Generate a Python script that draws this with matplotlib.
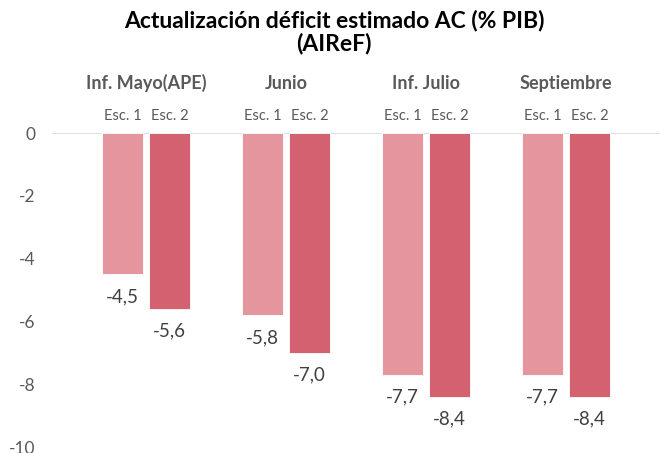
import numpy as np
import matplotlib.pyplot as plt

plt.rcParams['font.family'] = ['Lato', 'DejaVu Sans']

# Data
groups = ['Inf. Mayo(APE)', 'Junio', 'Inf. Julio', 'Septiembre']
esc1 = [-4.5, -5.8, -7.7, -7.7]
esc2 = [-5.6, -7.0, -8.4, -8.4]
sub_labels = ['Esc. 1', 'Esc. 2']
yticks = [0, -2, -4, -6, -8, -10]

c1 = '#E4959E'
c2 = '#D46170'
gray = '#595959'

fig = plt.figure(figsize=(6.68, 4.53), dpi=100)
ax = fig.add_axes([0.078, 0.0132, 0.91, 0.693])

x = np.arange(len(groups))
w = 0.293
off = 0.168
ax.bar(x - off, esc1, width=w, color=c1, edgecolor='white', linewidth=0.6)
ax.bar(x + off, esc2, width=w, color=c2, edgecolor='white', linewidth=0.6)

ax.set_xlim(-0.67, 3.67)
ax.set_ylim(-10, 0)
ax.axhline(0, color='#D9D9D9', linewidth=1.2, zorder=0)

for s in ax.spines.values():
    s.set_visible(False)
ax.set_xticks([])
ax.set_yticks(yticks)
ax.set_yticklabels([str(t) for t in yticks], fontsize=12.5, color=gray)
ax.tick_params(axis='y', length=0, pad=12)

# value labels below bars
for xi, v in zip(x - off, esc1):
    ax.annotate(f'{v:.1f}'.replace('.', ','), (xi, v), xytext=(0, -16),
                textcoords='offset points', ha='center', va='center',
                fontsize=13.5, color='#404040')
for xi, v in zip(x + off, esc2):
    ax.annotate(f'{v:.1f}'.replace('.', ','), (xi, v), xytext=(0, -16),
                textcoords='offset points', ha='center', va='center',
                fontsize=13.5, color='#404040')

# group and sub labels above the plot
for xi, g in zip(x, groups):
    ax.annotate(g, (xi, 0), xytext=(0, 36), textcoords='offset points',
                ha='center', va='center', fontsize=13, fontweight='bold', color=gray)
    ax.annotate(sub_labels[0], (xi - off, 0), xytext=(0, 12), textcoords='offset points',
                ha='center', va='center', fontsize=10.5, color=gray)
    ax.annotate(sub_labels[1], (xi + off, 0), xytext=(0, 12), textcoords='offset points',
                ha='center', va='center', fontsize=10.5, color=gray)

fig.text(0.5, 0.929, 'Actualización déficit estimado AC (% PIB)\n(AIReF)',
         ha='center', va='center', fontsize=16.5, fontweight='bold',
         linespacing=1.05)

fig.savefig('out.png', dpi=100)
